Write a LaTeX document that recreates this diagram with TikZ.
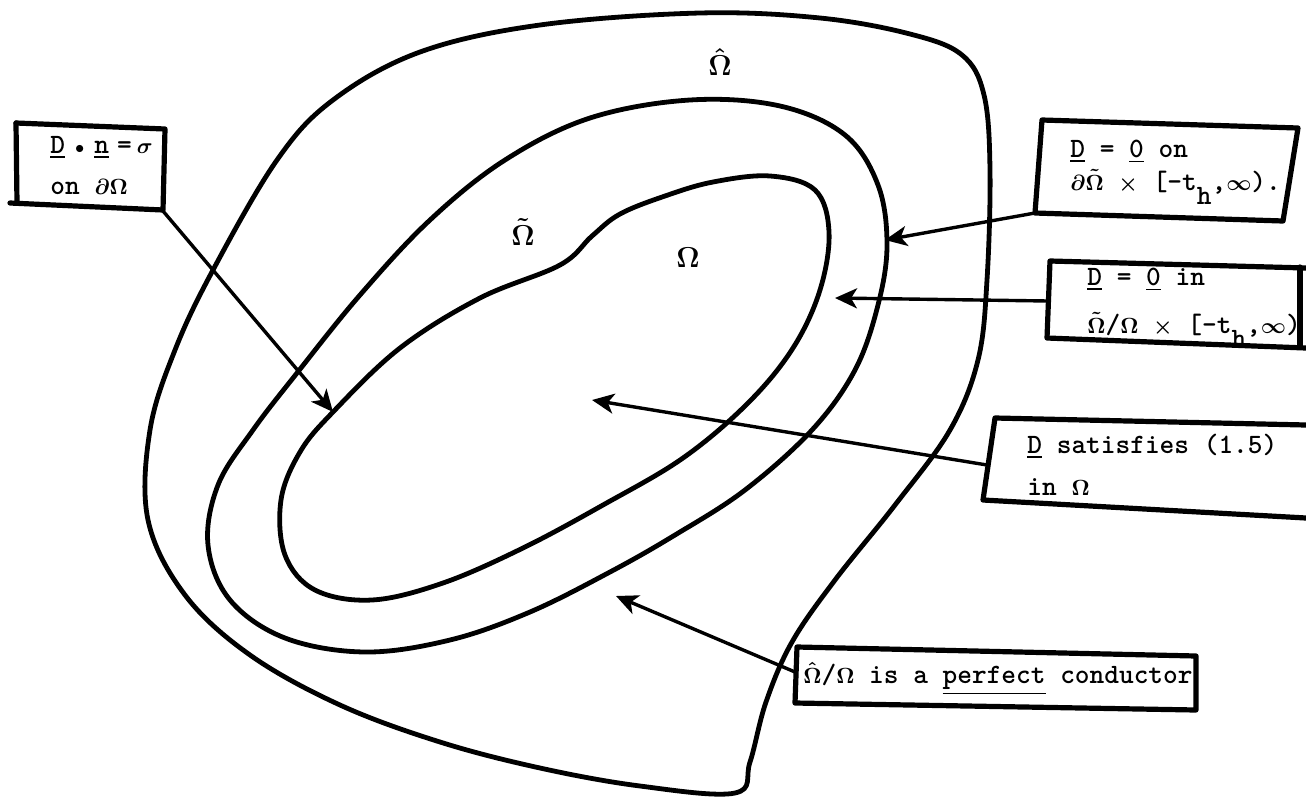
\documentclass[tikz,border=0pt]{standalone}
\usepackage{amsmath}
\usetikzlibrary{arrows.meta}
\newcommand{\mm}[1]{{\fontsize{11}{13}\selectfont\boldmath$#1$}}
\begin{document}
\begin{tikzpicture}[x=0.5pt,y=-0.5pt,
  curve/.style={line width=2.4pt,line join=round},
  boxline/.style={line width=2.6pt,line join=round,line cap=round},
  arr/.style={line width=1.7pt,-{Stealth[length=11pt,width=10pt,inset=3pt]}},
  txt/.style={anchor=base west,inner sep=0pt,font=\fontsize{14}{17}\selectfont\ttfamily\bfseries},
  lab/.style={inner sep=0pt,font=\fontsize{14}{16}\selectfont\boldmath}]
\useasboundingbox[fill=white] (0,0) rectangle (1306,798);

% outer region boundary
\draw[curve] plot[smooth cycle,tension=0.6] coordinates {
 (700,13) (820,18) (910,34) (962,55) (984,95) (990,170) (987,280) (978,360)
 (950,430) (895,505) (835,580) (792,642) (766,702) (750,762) (735,793)
 (640,786) (540,768) (440,742) (340,705) (250,655) (185,595) (148,520) (150,430)
 (175,350) (213,270) (277,160) (333,100) (420,52) (540,25)};
% middle boundary
\draw[curve] plot[smooth cycle,tension=0.6] coordinates {
 (690,100) (780,106) (845,135) (878,185) (887,245) (878,305) (855,370)
 (812,430) (745,490) (675,535) (610,572) (530,612) (450,640) (365,652)
 (285,638) (230,600) (208,545) (218,485) (253,430) (297,373) (360,295)
 (430,220) (505,160) (590,118)};
% inner boundary
\draw[curve] plot[smooth cycle,tension=0.6] coordinates {
 (770,176) (815,190) (829,232) (820,290) (793,348) (748,403) (683,458)
 (603,505) (523,548) (443,583) (372,600) (315,590) (285,555) (281,500)
 (300,452) (333,412) (400,348) (480,298) (560,265) (592,236) (620,214)
 (665,196) (713,182)};

% region labels
\node[lab] (ohat) at (720,62) {$\hat\Omega$};
\node[lab] (otil) at (523,232) {$\tilde\Omega$};
\node[lab] (om) at (688,258) {$\Omega$};

% box 1
\draw[boxline] (16,123) -- (165,129) -- (163,210) -- (10,203);
\draw[boxline] (16,123) -- (17,203);
\node[txt] (b1a) at (50,153) {\underline{D}\hspace{5pt}{\fontsize{9}{10}\selectfont$\bullet$}\hspace{5pt}\underline{n}\hspace{4pt}=\hspace{2.5pt}\mm{\sigma}};
\node[txt] (b1b) at (50,194) {on \mm{\partial\Omega}};
\coordinate (b1c) at (163,211);
\coordinate (t1) at (333,412);
\draw[arr] (b1c) -- (t1);

% box 2
\draw[boxline] (1042,120) -- (1298,128) -- (1283,221) -- (1035,213) -- cycle;
\node[txt] (b2a) at (1070,157) {\underline{D} = \underline{0} on};
\node[txt] (b2b) at (1070,190) {\mm{\partial\tilde\Omega} \mm{\times} [-t\raisebox{-7pt}{h},\mm{\infty}).};
\coordinate (b2c) at (1035,213);
\coordinate (t2) at (885,240);
\draw[arr] (b2c) -- (t2);

% box 3
\draw[boxline] (1306,268) -- (1050,261) -- (1047,338) -- (1306,348);
\draw[boxline] (1300,267) -- (1300,347);
\node[txt] (b3a) at (1087,285) {\underline{D} = \underline{0} in};
\node[txt] (b3b) at (1087,333) {\mm{\tilde\Omega}/\mm{\Omega} \mm{\times} [-t\raisebox{-7pt}{h},\mm{\infty})};
\coordinate (b3c) at (1048,301);
\coordinate (t3) at (835,298);
\draw[arr] (b3c) -- (t3);

% box 4
\draw[boxline] (1306,425) -- (995,418) -- (983,500) -- (1306,518);
\node[txt] (b4a) at (1027,453) {\underline{D} satisfies (1.5)};
\node[txt] (b4b) at (1027,495) {in \mm{\Omega}};
\coordinate (b4c) at (987,465);
\coordinate (t4) at (592,400);
\draw[arr] (b4c) -- (t4);

% box 5
\draw[boxline] (797,647) -- (1196,656) -- (1196,710) -- (795,703) -- cycle;
\node[txt] (b5a) at (803,683) {\mm{\hat\Omega}/\mm{\Omega} is a \underline{perfect} conductor};
\coordinate (b5c) at (795,672);
\coordinate (t5) at (616,596);
\draw[arr] (b5c) -- (t5);
\end{tikzpicture}
\end{document}
